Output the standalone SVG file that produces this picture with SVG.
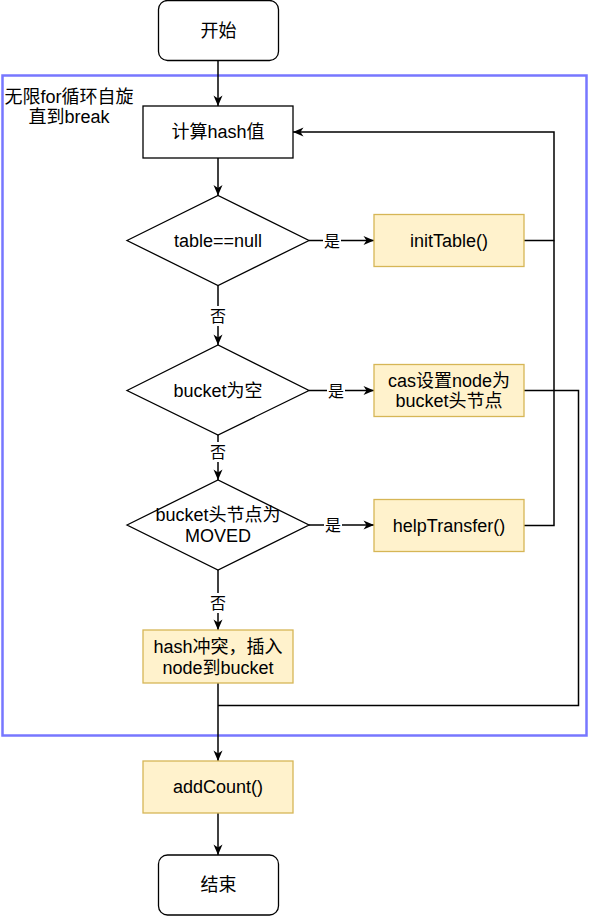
<svg xmlns="http://www.w3.org/2000/svg" width="591" height="917" viewBox="0 0 591 917">
<style>
  text { font-family: "Liberation Sans", "Noto Sans CJK SC", sans-serif; font-size: 18px; fill: #000; text-anchor: middle; dominant-baseline: central; }
  .lbl { font-size: 16px; }
  .term { fill: #fff; stroke: #000; stroke-width: 1.3; }
  .proc { fill: #fff; stroke: #000; stroke-width: 1.3; }
  .dec { fill: #fff; stroke: #000; stroke-width: 1.3; }
  .act { fill: #fff2cc; stroke: #d6b656; stroke-width: 1.3; }
  .edge { fill: none; stroke: #000; stroke-width: 1.5; }
  .bg { fill: #fff; stroke: none; }
</style>
<defs>
  <marker id="arr" viewBox="0 0 12 10" refX="11" refY="5" markerWidth="12" markerHeight="10" markerUnits="userSpaceOnUse" orient="auto">
    <path d="M0.5,0.5 L11,5 L0.5,9.5 L3.5,5 z" fill="#000"/>
  </marker>
</defs>
<rect x="0" y="0" width="591" height="917" fill="#fff"/>

<g id="loop-container">
  <rect x="2.5" y="75.5" width="584" height="660" fill="none" stroke="#7777ff" stroke-width="2.5"/>
  <text x="69" y="97">无限for循环自旋</text>
  <text x="69" y="117">直到break</text>
</g>

<g id="connectors">
  <path class="edge" d="M218,60.5 L218,106" marker-end="url(#arr)"/>
  <path class="edge" d="M218,158 L218,195.5" marker-end="url(#arr)"/>
  <path class="edge" d="M309,240.5 L374,240.5" marker-end="url(#arr)"/>
  <path class="edge" d="M218,285.5 L218,345" marker-end="url(#arr)"/>
  <path class="edge" d="M309,390.5 L374,390.5" marker-end="url(#arr)"/>
  <path class="edge" d="M218,435 L218,480" marker-end="url(#arr)"/>
  <path class="edge" d="M309,525 L374,525" marker-end="url(#arr)"/>
  <path class="edge" d="M218,570 L218,630" marker-end="url(#arr)"/>
  <path class="edge" d="M524,240.5 L554,240.5 L554,132 L293,132" marker-end="url(#arr)"/>
  <path class="edge" d="M524,525.5 L554,525.5 L554,240.5"/>
  <path class="edge" d="M524,390.5 L578.5,390.5 L578.5,705.5 L218,705.5"/>
  <path class="edge" d="M218,683 L218,761" marker-end="url(#arr)"/>
  <path class="edge" d="M218,813 L218,855" marker-end="url(#arr)"/>
  <rect class="bg" x="323" y="231" width="18" height="19"/>
  <text class="lbl" x="332" y="241">是</text>
  <rect class="bg" x="327" y="381" width="18" height="19"/>
  <text class="lbl" x="336" y="391">是</text>
  <rect class="bg" x="324" y="515" width="18" height="19"/>
  <text class="lbl" x="333" y="525">是</text>
  <rect class="bg" x="209" y="306" width="18" height="20"/>
  <text class="lbl" x="218" y="316">否</text>
  <rect class="bg" x="209" y="442" width="18" height="20"/>
  <text class="lbl" x="218" y="452">否</text>
  <rect class="bg" x="209" y="593" width="18" height="20"/>
  <text class="lbl" x="218" y="603">否</text>
</g>

<g id="start">
  <rect class="term" x="158.5" y="0.5" width="120" height="60" rx="9"/>
  <text x="218.5" y="31">开始</text>
</g>

<g id="calc-hash">
  <rect class="proc" x="143" y="106" width="150" height="52"/>
  <text x="218" y="132">计算hash值</text>
</g>

<g id="table-null">
  <polygon class="dec" points="127,240.5 218,195.5 309,240.5 218,285.5"/>
  <text x="218" y="240.5">table==null</text>
</g>

<g id="init-table">
  <rect class="act" x="374" y="214.5" width="150" height="52"/>
  <text x="449" y="240.5">initTable()</text>
</g>

<g id="bucket-empty">
  <polygon class="dec" points="127,390.5 218,345 309,390.5 218,435"/>
  <text x="218" y="390.5">bucket为空</text>
</g>

<g id="cas-set">
  <rect class="act" x="374" y="364.5" width="150" height="52"/>
  <text x="449" y="381">cas设置node为</text>
  <text x="449" y="401">bucket头节点</text>
</g>

<g id="bucket-moved">
  <polygon class="dec" points="127,525 218,480 309,525 218,570"/>
  <text x="218" y="515">bucket头节点为</text>
  <text x="218" y="536">MOVED</text>
</g>

<g id="help-transfer">
  <rect class="act" x="374" y="499.5" width="150" height="52"/>
  <text x="449" y="525.5">helpTransfer()</text>
</g>

<g id="hash-conflict">
  <rect class="act" x="143" y="630" width="150" height="53"/>
  <text x="218" y="647">hash冲突，插入</text>
  <text x="218" y="668">node到bucket</text>
</g>

<g id="add-count">
  <rect class="act" x="143" y="761" width="150" height="52"/>
  <text x="218" y="787">addCount()</text>
</g>

<g id="end">
  <rect class="term" x="158.5" y="855" width="120" height="60" rx="9"/>
  <text x="218.5" y="885">结束</text>
</g>
</svg>
